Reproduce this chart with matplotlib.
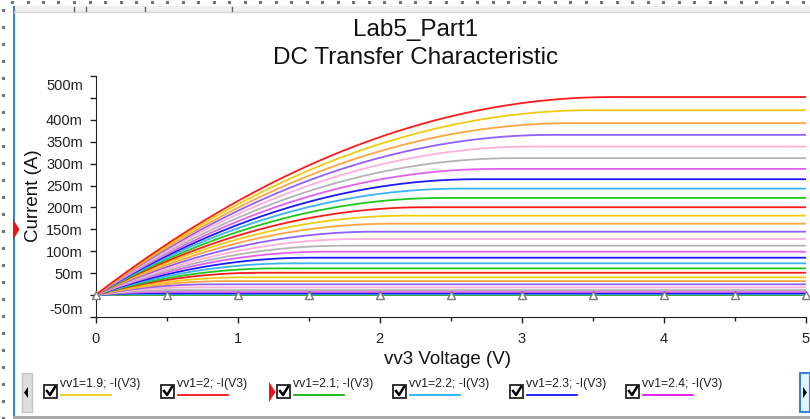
import numpy as np
import matplotlib
matplotlib.use('Agg')
import matplotlib.pyplot as plt
import matplotlib.transforms as mtransforms
from matplotlib.patches import Rectangle, Polygon
from matplotlib.lines import Line2D
from matplotlib.ticker import MultipleLocator

plt.rcParams['font.family'] = ['Liberation Sans', 'DejaVu Sans']

W, H = 810, 419

#gate sweep (vv1) values shown in the plot
vv1_values = [1.9, 2.0, 2.1, 2.2, 2.3, 2.4, 2.5, 2.6, 2.7, 2.8, 2.9,
              3.0, 3.1, 3.2, 3.3, 3.4, 3.5, 3.6, 3.7, 3.8, 3.9,
              4.0, 4.1, 4.2, 4.3, 4.4, 4.5, 4.6, 4.7, 4.8, 4.9, 5.0]

#saturation current of every trace (mA)
sat_current_mA = [0.0, 0.0, 0.4, 1.9, 4.0, 7.0, 11.5, 17.6, 24.5, 32.0, 40.5,
                  51.0, 61.0, 72.5, 85.3, 99.0, 112.7, 128.0, 144.7, 163.0, 181.3,
                  200.5, 221.7, 243.0, 264.5, 288.0, 312.5, 339.0, 365.7, 392.5, 422.0, 452.0]

#vv3 voltage where each trace goes flat (V)
knee_voltage = [0.0, 0.0, 0.12, 0.23, 0.35, 0.46, 0.58, 0.70, 0.81, 0.93, 1.04,
                1.16, 1.28, 1.39, 1.51, 1.62, 1.74, 1.86, 1.97, 2.09, 2.20,
                2.32, 2.45, 2.57, 2.69, 2.82, 2.95, 3.08, 3.22, 3.36, 3.50, 3.64]

#trace colour by last digit of vv1 (x.0 red, x.1 green, ...)
trace_colors = ['#ff1a1a', '#1ec81e', '#3cb4f0', '#1a1aff', '#e060ee',
                '#b4b4b4', '#ffb0d8', '#9060ff', '#ffa640', '#f0cc10']

marker_voltage = [0.0, 0.5, 1.0, 1.5, 2.0, 2.5, 3.0, 3.5, 4.0, 4.5, 5.0]

legend_vv1 = ['1.9', '2', '2.1', '2.2', '2.3', '2.4']
legend_colors = ['#e8c800', '#ff0000', '#00b000', '#10a8f0', '#0000ff', '#e000f0']
legend_box_x = [44, 161, 277, 393, 510, 626]

y_ticks = [-50, 0, 50, 100, 150, 200, 250, 300, 350, 400, 450, 500]
y_tick_labels = ['-50m', '', '50m', '100m', '150m', '200m', '250m',
                 '300m', '350m', '400m', '', '500m']
x_ticks = [0, 1, 2, 3, 4, 5]

vv3 = np.linspace(0, 5, 501)

fig = plt.figure(figsize=(W/100, H/100), dpi=100)
fig.patch.set_facecolor('white')

def fx(x):
    return x/W

def fy(y):
    return 1-y/H

def rect(x0, y0, x1, y1, **kw):
    fig.add_artist(Rectangle((fx(x0), fy(y1)), (x1-x0)/W, (y1-y0)/H,
                             transform=fig.transFigure, **kw))

def poly(pts, **kw):
    fig.add_artist(Polygon([(fx(a), fy(b)) for a, b in pts], closed=True,
                           transform=fig.transFigure, **kw))

'''main plot'''
ax = fig.add_axes([fx(95.5), fy(317), 710/W, 241/H])

for k in range(len(vv1_values)):
    isat = sat_current_mA[k]
    vk = knee_voltage[k]
    if vk > 0:
        cur = np.where(vv3 < vk, isat*(1-(1-vv3/vk)**2), isat)
    else:
        cur = np.zeros_like(vv3)
    col = trace_colors[int(round(vv1_values[k]*10)) % 10]
    ax.plot(vv3, cur, color=col, lw=1.3, zorder=2+k*0.01)

#cursor style markers on the base trace
ax.plot(marker_voltage, np.zeros(len(marker_voltage)), linestyle='none',
        marker='^', markersize=5.5, markerfacecolor='white',
        markeredgecolor='#7a7a7a', markeredgewidth=1, clip_on=False, zorder=5)

ax.set_xlim(0, 5)
ax.set_ylim(-50, 500)
ax.set_facecolor('white')

ax.spines['top'].set_visible(False)
ax.spines['right'].set_visible(False)
ax.spines['left'].set_color('#222222')
ax.spines['bottom'].set_color('#222222')

ax.set_yticks(y_ticks)
ax.set_yticklabels(y_tick_labels)
ax.set_xticks(x_ticks)
ax.set_xticklabels([str(v) for v in x_ticks])
ax.xaxis.set_minor_locator(MultipleLocator(0.5))

ax.tick_params(axis='y', direction='out', length=4, width=1, pad=5,
               labelsize=10.5, colors='#222222')
ax.tick_params(axis='x', which='major', direction='out', length=4, width=1,
               pad=6.5, labelsize=10.5, colors='#222222')
ax.tick_params(axis='x', which='minor', direction='out', length=3, width=1,
               colors='#222222')

#shift end labels inside the axis span
ylabels = ax.get_yticklabels()
ylabels[-1].set_va('top')
ylabels[-1].set_transform(ylabels[-1].get_transform() +
                          mtransforms.ScaledTranslation(0, -3/100, fig.dpi_scale_trans))
ylabels[0].set_va('bottom')

'''titles and axis labels'''
fig.text(fx(416), fy(30), 'Lab5_Part1', ha='center', va='center',
         fontsize=17.5, color='#111111')
fig.text(fx(416), fy(58), 'DC Transfer Characteristic', ha='center',
         va='center', fontsize=17.5, color='#111111')
fig.text(fx(448), fy(359), 'vv3 Voltage (V)', ha='center', va='center',
         fontsize=13.5, color='#111111')
fig.text(fx(33), fy(196), 'Current (A)', ha='center', va='center',
         rotation=90, fontsize=13.5, color='#111111')

'''window chrome'''
#top ruler strip
rect(14, 6, W, 12.5, facecolor='#f0f0f0', edgecolor='none')
fig.add_artist(Line2D([fx(14), 1], [fy(12.5), fy(12.5)], color='#d8d8d8',
                      lw=1, transform=fig.transFigure))
for xm in [74, 86, 145, 232]:
    fig.add_artist(Line2D([fx(xm), fx(xm)], [fy(7), fy(11)], color='#666666',
                          lw=1, transform=fig.transFigure))

#dotted guides
dots_x = np.arange(12, W, 15.5)
fig.add_artist(Line2D(fx(dots_x), np.full(len(dots_x), fy(2.5)), linestyle='none',
                      marker='s', markersize=1.3, color='#707070',
                      transform=fig.transFigure))
dots_y = np.arange(10, H, 17)
fig.add_artist(Line2D(np.full(len(dots_y), fx(3)), fy(dots_y), linestyle='none',
                      marker='s', markersize=1.3, color='#707070',
                      transform=fig.transFigure))

#blue left border
rect(12.5, 6, 15, 416, facecolor='#2f86dc', edgecolor='none')

#red marker on the left
poly([(13, 219), (19.5, 229.5), (13, 240)], facecolor='#ee1111', edgecolor='none')

#bottom border
rect(12.5, 415.5, W, H, facecolor='#a8a8a8', edgecolor='none')

#scroll buttons
rect(21.5, 373, 32, 412, facecolor='#dedede', edgecolor='#c4c4c4', lw=1)
poly([(28, 387), (24, 392.5), (28, 398)], facecolor='black', edgecolor='none')
rect(799.5, 373, 809.5, 412, facecolor='#e5f1fb', edgecolor='#2f86dc', lw=1.5)
poly([(803, 387), (807, 392.5), (803, 398)], facecolor='black', edgecolor='none')

'''legend row'''
for k in range(len(legend_vv1)):
    bx = legend_box_x[k]
    rect(bx, 385, bx+13, 398, facecolor='white', edgecolor='#222222', lw=1.3)
    fig.add_artist(Line2D([fx(bx+3), fx(bx+6), fx(bx+11)],
                          [fy(391), fy(395), fy(387)], color='black', lw=1.8,
                          transform=fig.transFigure))
    fig.text(fx(bx+16), fy(384), 'vv1=%s; -I(V3)' % legend_vv1[k],
             ha='left', va='center', fontsize=8.8, color='#222222')
    fig.add_artist(Line2D([fx(bx+17), fx(bx+67)], [fy(394.5), fy(394.5)],
                          color=legend_colors[k], lw=1.2,
                          transform=fig.transFigure))

#selected-trace marker in legend
poly([(269, 382), (275.5, 392), (269, 402)], facecolor='#ee1111', edgecolor='none')

plt.savefig('out.png', dpi=100)
plt.close()
